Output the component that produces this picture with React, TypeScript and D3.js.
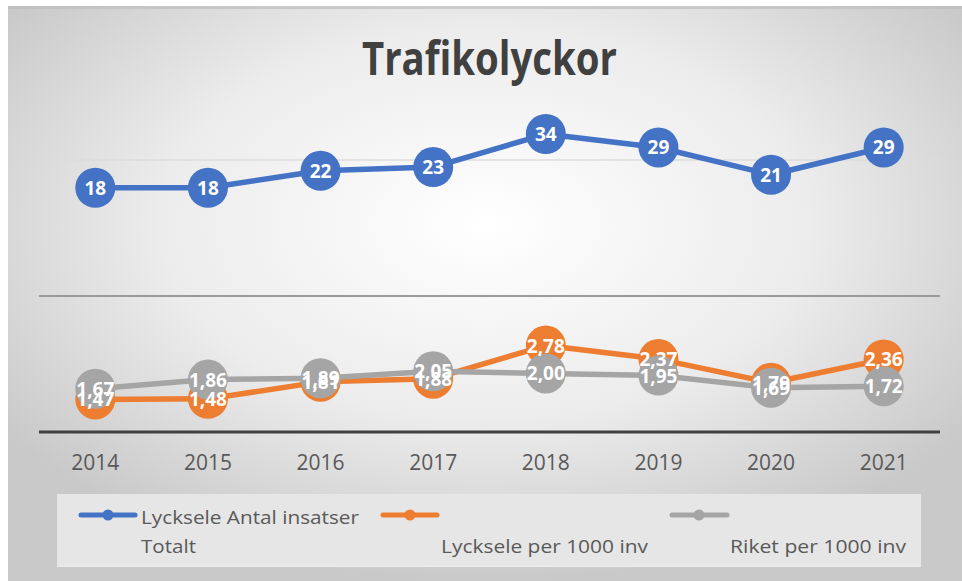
import React from "react";
import * as d3 from "d3";

const years = ["2014", "2015", "2016", "2017", "2018", "2019", "2020", "2021"];
const totaltInsatser = [18, 18, 22, 23, 34, 29, 21, 29];
const lyckselePer1000 = [1.47, 1.48, 1.81, 1.88, 2.78, 2.37, 1.79, 2.36];
const riketPer1000 = [1.67, 1.86, 1.89, 2.05, 2.0, 1.95, 1.69, 1.72];
const gridValues = [5, 25];
const title = "Trafikolyckor";
const seriesNames = ["Lycksele Antal insatser Totalt", "Lycksele per 1000 inv", "Riket per 1000 inv"];

const W = 962;
const H = 581;

const locale = d3.formatLocale({ decimal: ",", thousands: " ", grouping: [3], currency: ["", " kr"] });
const fmt2 = locale.format(".2f");
const fmt0 = locale.format("d");

export default function App() {
  const x = d3.scaleBand<string>().domain(years).range([39, 940]);
  const cx = (d: string) => (x(d) as number) + x.bandwidth() / 2;
  const y = d3.scaleLog().base(5).domain([1, 125]).range([432, 24]);
  const line = d3
    .line<[string, number]>()
    .x((d) => cx(d[0]))
    .y((d) => y(d[1]));

  const series = [
    { name: seriesNames[0], values: totaltInsatser, color: "#4472C4", fmt: fmt0 },
    { name: seriesNames[1], values: lyckselePer1000, color: "#ED7D31", fmt: fmt2 },
    { name: seriesNames[2], values: riketPer1000, color: "#A5A5A5", fmt: fmt2 },
  ];

  const font = "'Open Sans', 'Noto Sans', sans-serif";

  return (
    <svg width={W} height={H} style={{ position: "absolute", left: 0, top: 0 }} fontFamily={font}>
      <defs>
        <radialGradient id="bg" cx="50%" cy="38%" r="62%">
          <stop offset="0%" stopColor="#ffffff" />
          <stop offset="55%" stopColor="#ececec" />
          <stop offset="100%" stopColor="#c9c9c9" />
        </radialGradient>
      </defs>
      <rect x={0} y={0} width={W} height={H} fill="#ffffff" />
      <rect x={8} y={6} width={W - 8} height={H - 6} fill="url(#bg)" />
      <rect x={8} y={6} width={W - 8} height={3} fill="#bdbdbd" opacity={0.7} />

      <text
        x={489.5}
        y={75}
        textAnchor="middle"
        fontSize={46}
        fontWeight="bold"
        fill="#404040"
        textLength={255}
        lengthAdjust="spacingAndGlyphs"
      >
        {title}
      </text>

      {gridValues.map((g, i) => (
        <line
          key={g}
          x1={39}
          x2={940}
          y1={y(g)}
          y2={y(g)}
          stroke={i === 0 ? "#9a9a9a" : "#dddddd"}
          strokeWidth={i === 0 ? 2 : 1.5}
        />
      ))}
      <line x1={39} x2={940} y1={y(1)} y2={y(1)} stroke="#404040" strokeWidth={3} />

      {years.map((yr) => (
        <text key={yr} x={cx(yr)} y={470} textAnchor="middle" fontSize={21} fill="#595959">
          {yr}
        </text>
      ))}

      {series.map((s) => {
        const pts = years.map((yr, i) => [yr, s.values[i]] as [string, number]);
        return (
          <g key={s.name}>
            <path d={line(pts) || ""} fill="none" stroke={s.color} strokeWidth={5.5} strokeLinejoin="round" />
            {pts.map((p) => (
              <circle key={p[0]} cx={cx(p[0])} cy={y(p[1])} r={20} fill={s.color} />
            ))}
          </g>
        );
      })}

      {series.map((s) => (
        <g key={s.name + "-lbl"}>
          {years.map((yr, i) => (
            <text
              key={yr}
              x={cx(yr)}
              y={y(s.values[i]) + 7}
              textAnchor="middle"
              fontSize={19}
              fontWeight="bold"
              fill="#ffffff"
            >
              {s.fmt(s.values[i])}
            </text>
          ))}
        </g>
      ))}

      <rect x={57} y={494} width={864} height={73} fill="#e6e6e6" />
      <line x1={57} x2={921} y1={566.5} y2={566.5} stroke="#eeeeee" strokeWidth={1} />

      {/* legend */}
      <g>
        <line x1={81} x2={135} y1={515} y2={515} stroke={series[0].color} strokeWidth={5} strokeLinecap="round" />
        <circle cx={108} cy={515} r={5.5} fill={series[0].color} />
        <text x={141} y={524} fontSize={18.5} fill="#595959" textLength={218} lengthAdjust="spacingAndGlyphs">
          Lycksele Antal insatser
        </text>
        <text x={141} y={553} fontSize={18.5} fill="#595959" textLength={55} lengthAdjust="spacingAndGlyphs">
          Totalt
        </text>

        <line x1={383} x2={437} y1={515} y2={515} stroke={series[1].color} strokeWidth={5} strokeLinecap="round" />
        <circle cx={410} cy={515} r={5.5} fill={series[1].color} />
        <text x={441} y={553} fontSize={18.5} fill="#595959" textLength={207} lengthAdjust="spacingAndGlyphs">
          {seriesNames[1]}
        </text>

        <line x1={672} x2={727} y1={515} y2={515} stroke={series[2].color} strokeWidth={5} strokeLinecap="round" />
        <circle cx={699} cy={515} r={5.5} fill={series[2].color} />
        <text x={730} y={553} fontSize={18.5} fill="#595959" textLength={176} lengthAdjust="spacingAndGlyphs">
          {seriesNames[2]}
        </text>
      </g>
    </svg>
  );
}
